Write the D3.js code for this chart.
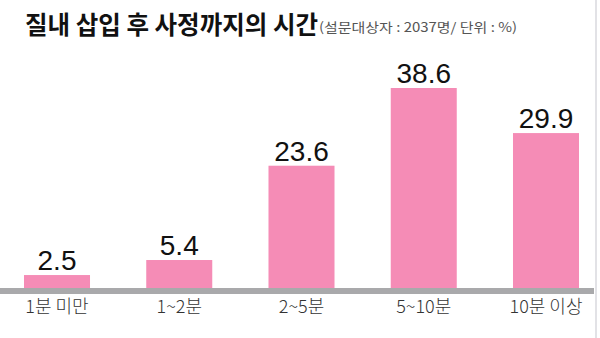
<!DOCTYPE html>
<html>
<head>
<meta charset="utf-8">
<script src="https://cdn.jsdelivr.net/npm/d3@7"></script>
<style>
  body { margin: 0; background: #fff; }
  svg { display: block; }
</style>
</head>
<body>
<div id="chart"></div>
<script>
// data
const categories = ["1분 미만", "1~2분", "2~5분", "5~10분", "10분 이상"];
const values = [2.5, 5.4, 23.6, 38.6, 29.9];
const titleText = "질내 삽입 후 사정까지의 시간";
const noteText = "(설문대상자 : 2037명/ 단위 : %)";

const W = 600, H = 338;
const baseY = 288;

const svg = d3.select("#chart")
  .append("svg")
    .attr("width", W)
    .attr("height", H);

// x positions of the bars
const x = d3.scaleBand()
  .domain(categories)
  .range([24, 579])
  .paddingInner(0.46)
  .paddingOuter(0);

// bar heights
const y = d3.scaleLinear()
  .domain([0, 38.6])
  .range([baseY, 88]);

// faint frame line at the right edge
svg.append("line")
  .attr("x1", 596).attr("x2", 596)
  .attr("y1", 0).attr("y2", H)
  .attr("stroke", "#e2e2e6")
  .attr("stroke-width", 2);

// title
svg.append("text")
  .attr("x", 25)
  .attr("y", 34)
  .attr("font-family", "'Noto Sans CJK KR', sans-serif")
  .attr("font-weight", "bold")
  .attr("font-size", 25)
  .attr("fill", "#111")
  .attr("textLength", 293)
  .attr("lengthAdjust", "spacingAndGlyphs")
  .text(titleText);

svg.append("text")
  .attr("x", 319)
  .attr("y", 32)
  .attr("font-family", "'Noto Sans CJK KR', sans-serif")
  .attr("font-size", 13)
  .attr("fill", "#555")
  .attr("textLength", 198)
  .attr("lengthAdjust", "spacingAndGlyphs")
  .text(noteText);

// bars
svg.append("g")
  .selectAll("rect")
  .data(values)
  .join("rect")
    .attr("x", (d, i) => x(categories[i]))
    .attr("y", d => y(d))
    .attr("width", x.bandwidth())
    .attr("height", d => baseY - y(d))
    .attr("fill", "#f58cb6");

// value labels
svg.append("g")
  .selectAll("text")
  .data(values)
  .join("text")
    .attr("x", (d, i) => x(categories[i]) + x.bandwidth() / 2)
    .attr("y", d => y(d) - 5)
    .attr("text-anchor", "middle")
    .attr("font-family", "'Liberation Sans', Arial, sans-serif")
    .attr("font-size", 28)
    .attr("fill", "#111")
    .text(d => d.toFixed(1));

// baseline band
svg.append("rect")
  .attr("x", 0)
  .attr("y", baseY)
  .attr("width", 594)
  .attr("height", 6)
  .attr("fill", "#a9a9ab");

// category axis
const xAxis = svg.append("g")
  .attr("transform", `translate(0, ${baseY + 6})`)
  .call(d3.axisBottom(x).tickSize(0).tickPadding(6));
xAxis.select(".domain").remove();
xAxis.selectAll("text")
  .attr("font-family", "'Noto Sans CJK KR', sans-serif")
  .attr("font-size", 18)
  .attr("font-weight", 300)
  .attr("fill", "#333");
</script>
</body>
</html>
